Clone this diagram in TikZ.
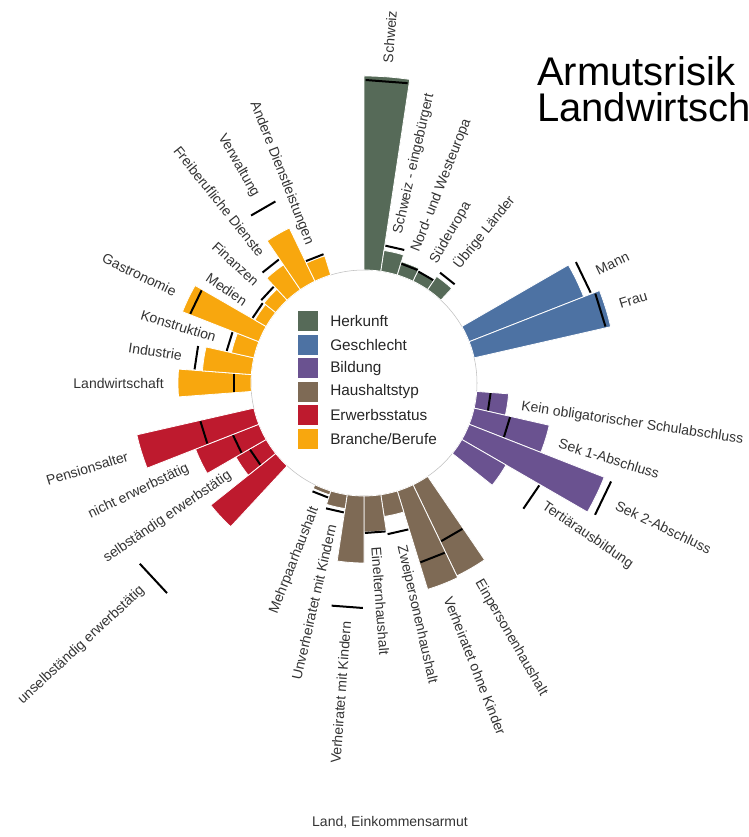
\documentclass[tikz,border=0pt]{standalone}
\usepackage{fontspec}
\setmainfont{Liberation Sans}
\definecolor{herkunft}{HTML}{566A58}
\definecolor{geschlecht}{HTML}{4D72A3}
\definecolor{bildung}{HTML}{6A5290}
\definecolor{haushalt}{HTML}{7E6A55}
\definecolor{erwerb}{HTML}{BE1A2E}
\definecolor{branche}{HTML}{F8A70E}
\definecolor{labeltext}{HTML}{333333}
\tikzset{
  barfill/.style={fill=#1,draw=white,line width=0.6pt},
  valtick/.style={draw=black,line width=1.5pt},
  barlabel/.style={font=\fontsize{10.5}{12}\selectfont,text=labeltext,inner sep=0pt},
  legendbox/.style={fill=#1,minimum size=15pt,inner sep=0pt},
  legendtext/.style={font=\fontsize{11.5}{13}\selectfont,text=black!85,anchor=west,inner sep=0pt},
}
\newcommand{\slotw}{8.5714}
\newcommand{\rin}{113}
% #1 name, #2 slot, #3 colour, #4 bar radius, #5 tick radius, #6 text
\newcommand{\radbar}[6]{%
  \pgfmathsetmacro{\aA}{90-#2*\slotw}%
  \pgfmathsetmacro{\aB}{90-(#2+1)*\slotw}%
  \pgfmathsetmacro{\aM}{90-(#2+0.5)*\slotw}%
  \pgfmathsetmacro{\rL}{max(#4,#5)+14}%
  \fill[barfill=#3] (\aA:\rin) arc[start angle=\aA,end angle=\aB,radius=\rin]
    -- (\aB:#4) arc[start angle=\aB,end angle=\aA,radius=#4] -- cycle;
  \draw[valtick] ({\aA-0.3}:#5) -- ({\aB+0.3}:#5);
  \ifdim\aM pt>-90pt
    \node (#1) at (\aM:\rL) [barlabel,anchor=west,rotate=\aM] {#6};
  \else
    \pgfmathsetmacro{\aR}{\aM+180}%
    \node (#1) at (\aM:\rL) [barlabel,anchor=east,rotate=\aR] {#6};
  \fi
}
\begin{document}
\begin{tikzpicture}[x=0.75pt,y=0.75pt,line join=bevel]
\useasboundingbox (-364,-454) rectangle (384,383);
%%
\draw[draw=black!25,line width=0.4pt,fill=white] (0,0) circle[radius=\rin];
%
\radbar{lbl_schweiz}{0}{herkunft}{307}{303}{Schweiz}
\radbar{lbl_eingebuergert}{1}{herkunft}{134}{139}{Schweiz - eingebürgert}
\radbar{lbl_nordwest}{2}{herkunft}{127}{125}{Nord- und Westeuropa}
\radbar{lbl_sued}{3}{herkunft}{125}{124}{Südeuropa}
\radbar{lbl_uebrige}{4}{herkunft}{129}{134}{Übrige Länder}
%
\radbar{lbl_mann}{7}{geschlecht}{236}{244}{Mann}
\radbar{lbl_frau}{8}{geschlecht}{253}{248}{Frau}
%
\radbar{lbl_keinobl}{11}{bildung}{145}{127}{Kein obligatorischer Schulabschluss}
\radbar{lbl_sekeins}{12}{bildung}{190}{150}{Sek 1-Abschluss}
\radbar{lbl_sekzwei}{13}{bildung}{258}{266}{Sek 2-Abschluss}
\radbar{lbl_tertiaer}{14}{bildung}{164}{203}{Tertiärausbildung}
%
\radbar{lbl_einperson}{17}{haushalt}{214}{176}{Einpersonenhaushalt}
\radbar{lbl_verhohne}{18}{haushalt}{216}{188}{Verheiratet ohne Kinder}
\radbar{lbl_zweiperson}{19}{haushalt}{135}{153}{Zweipersonenhaushalt}
\radbar{lbl_eineltern}{20}{haushalt}{149}{150}{Einelternhaushalt}
\radbar{lbl_verhmit}{21}{haushalt}{180}{225}{Verheiratet mit Kindern}
\radbar{lbl_unverhmit}{22}{haushalt}{127}{131}{Unverheiratet mit Kindern}
\radbar{lbl_mehrpaar}{23}{haushalt}{117}{120}{Mehrpaarhaushalt}
%
\radbar{lbl_unselbst}{26}{erwerb}{196}{288}{unselbständig erwerbstätig}
\radbar{lbl_selbst}{27}{erwerb}{148}{132}{selbständig erwerbstätig}
\radbar{lbl_nichterw}{28}{erwerb}{181}{141}{nicht erwerbstätig}
\radbar{lbl_pension}{29}{erwerb}{233}{168}{Pensionsalter}
%
\radbar{lbl_landwirt}{31}{branche}{186}{130}{Landwirtschaft}
\radbar{lbl_industrie}{32}{branche}{162}{170}{Industrie}
\radbar{lbl_konstr}{33}{branche}{136}{141}{Konstruktion}
\radbar{lbl_gastro}{34}{branche}{195}{187}{Gastronomie}
\radbar{lbl_medien}{35}{branche}{126}{129}{Medien}
\radbar{lbl_finanzen}{36}{branche}{128}{132}{Finanzen}
\radbar{lbl_freiberuf}{37}{branche}{143}{150}{Freiberufliche Dienste}
\radbar{lbl_verwaltung}{38}{branche}{172}{202}{Verwaltung}
\radbar{lbl_anderedl}{39}{branche}{133}{135}{Andere Dienstleistungen}
%
\node (key_herkunft) at (-56,62) [legendbox=herkunft] {};
  \node (txt_herkunft) at (-34,62) [legendtext] {Herkunft};
\node (key_geschlecht) at (-56,38.4) [legendbox=geschlecht] {};
  \node (txt_geschlecht) at (-34,38.4) [legendtext] {Geschlecht};
\node (key_bildung) at (-56,14.8) [legendbox=bildung] {};
  \node (txt_bildung) at (-34,14.8) [legendtext] {Bildung};
\node (key_haushalt) at (-56,-8.8) [legendbox=haushalt] {};
  \node (txt_haushalt) at (-34,-8.8) [legendtext] {Haushaltstyp};
\node (key_erwerb) at (-56,-32.4) [legendbox=erwerb] {};
  \node (txt_erwerb) at (-34,-32.4) [legendtext] {Erwerbsstatus};
\node (key_branche) at (-56,-56) [legendbox=branche] {};
  \node (txt_branche) at (-34,-56) [legendtext] {Branche/Berufe};
%
\node (title_a) at (173,297) [anchor=base west,inner sep=0pt,font=\fontsize{30}{36}\selectfont] {Armutsrisik};
\node (title_b) at (173,261) [anchor=base west,inner sep=0pt,font=\fontsize{30}{36}\selectfont] {Landwirtsch};
\node (caption) at (26,-443) [anchor=base,inner sep=0pt,text=labeltext,font=\fontsize{10.5}{12}\selectfont] {Land, Einkommensarmut};
%
\end{tikzpicture}
\end{document}
